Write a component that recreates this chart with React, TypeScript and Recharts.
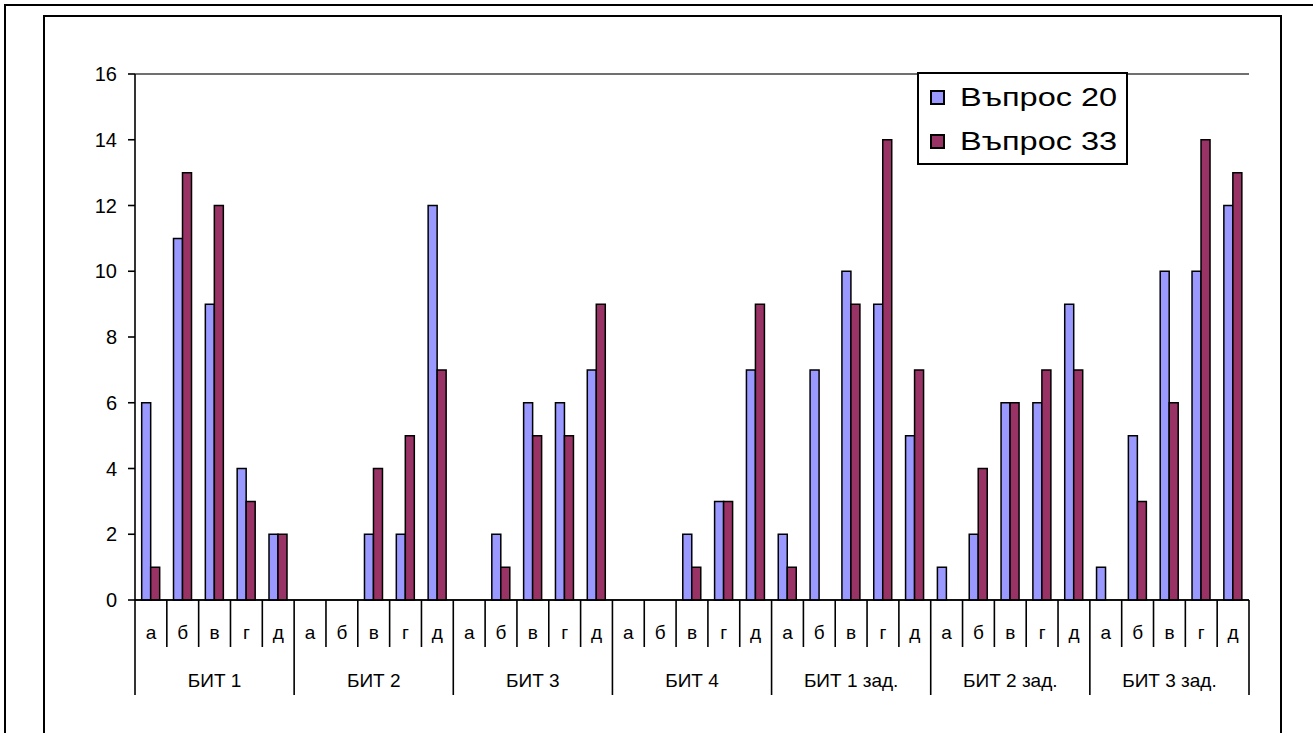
import React from "react";
import {
  BarChart,
  Bar,
  XAxis,
  YAxis,
  CartesianGrid,
  ReferenceLine,
  Legend,
} from "recharts";

const groups = ["БИТ 1", "БИТ 2", "БИТ 3", "БИТ 4", "БИТ 1 зад.", "БИТ 2 зад.", "БИТ 3 зад."];
const letters = ["а", "б", "в", "г", "д"];

// per group: а б в г д
const q20 = [
  6, 11, 9, 4, 2,
  0, 0, 2, 2, 12,
  0, 2, 6, 6, 7,
  0, 0, 2, 3, 7,
  2, 7, 10, 9, 5,
  1, 2, 6, 6, 9,
  1, 5, 10, 10, 12,
];
const q33 = [
  1, 13, 12, 3, 2,
  0, 0, 4, 5, 7,
  0, 1, 5, 5, 9,
  0, 0, 1, 3, 9,
  1, 0, 9, 14, 7,
  0, 4, 6, 7, 7,
  0, 3, 6, 14, 13,
];
const yTicks = [0, 2, 4, 6, 8, 10, 12, 14, 16];

const data = q20.map((v, i) => ({
  key: i,
  letter: letters[i % 5],
  group: groups[Math.floor(i / 5)],
  q20: v,
  q33: q33[i],
}));

const FONT = '"Liberation Sans", Arial, sans-serif';

const CategoryTick = (props: any) => {
  const { x, y, index, width } = props;
  const n = data.length;
  const band = (width || 1114) / n;
  const left = x - band / 2;
  const right = x + band / 2;
  const d = data[index];
  const first = index % 5 === 0;
  return (
    <g>
      <line x1={left} x2={left} y1={y} y2={first ? y + 95 : y + 47} stroke="#000" strokeWidth={1.6} />
      {index === n - 1 && (
        <line x1={right} x2={right} y1={y} y2={y + 95} stroke="#000" strokeWidth={1.6} />
      )}
      <text x={x} y={y + 39} textAnchor="middle" fontSize={19} fontFamily={FONT} fill="#000">
        {d.letter}
      </text>
      {index % 5 === 2 && (
        <text x={x} y={y + 87} textAnchor="middle" fontSize={19} fontFamily={FONT} fill="#000">
          {d.group}
        </text>
      )}
    </g>
  );
};

const LegendBox = (props: any) => {
  const items = props.payload || [];
  return (
    <div
      style={{
        width: 211,
        height: 93,
        boxSizing: "border-box",
        border: "2px solid #000",
        background: "#fff",
        fontFamily: FONT,
        position: "relative",
      }}
    >
      {items.map((it: any, i: number) => (
        <div key={it.value} style={{ position: "absolute", left: 11, top: 9 + i * 44, height: 28, display: "flex", alignItems: "center" }}>
          <span
            style={{
              display: "inline-block",
              width: 15,
              height: 15,
              boxSizing: "border-box",
              border: "2px solid #000",
              background: it.color,
            }}
          />
          <span
            style={{
              display: "inline-block",
              marginLeft: 15,
              fontSize: 25,
              lineHeight: "28px",
              color: "#000",
              transform: "scaleX(1.3)",
              transformOrigin: "left center",
              whiteSpace: "nowrap",
            }}
          >
            {it.value}
          </span>
        </div>
      ))}
    </div>
  );
};

export default function App() {
  return (
    <div style={{ position: "absolute", left: 0, top: 0, width: 1313, height: 733, overflow: "hidden", background: "#fff" }}>
      <div style={{ position: "absolute", left: 4, top: 4, width: 1310, height: 740, borderLeft: "2px solid #000", borderTop: "2px solid #000" }} />
      <div style={{ position: "absolute", left: 43, top: 15, width: 1239, height: 740, boxSizing: "border-box", border: "2px solid #000" }} />
      <div style={{ position: "absolute", left: 0, top: 0 }}>
        <BarChart
          width={1313}
          height={733}
          data={data}
          margin={{ top: 74, right: 64, left: 75, bottom: 33 }}
          barGap={0}
          barCategoryGap="21%"
        >
          <CartesianGrid vertical={false} stroke="#000" strokeWidth={1.6} />
          <XAxis
            dataKey="key"
            interval={0}
            height={100}
            tickLine={false}
            tickSize={0}
            tickMargin={0}
            axisLine={{ stroke: "#000", strokeWidth: 1.6 }}
            tick={<CategoryTick />}
          />
          <YAxis
            yAxisId="left"
            width={60}
            domain={[0, 16]}
            ticks={yTicks}
            interval={0}
            tickSize={7}
            tickMargin={11}
            axisLine={{ stroke: "#000", strokeWidth: 1.6 }}
            tickLine={{ stroke: "#000", strokeWidth: 1.6 }}
            tick={{ fontSize: 20, fontFamily: FONT, fill: "#000" }}
          />
          <YAxis yAxisId="right" orientation="right" width={0} domain={[0, 16]} tick={false} tickLine={false} axisLine={{ stroke: "#808080", strokeWidth: 1.6 }} />
          <ReferenceLine yAxisId="left" y={16} stroke="#808080" strokeWidth={1.6} />
          <Legend
            layout="vertical"
            align="center"
            verticalAlign="middle"
            content={<LegendBox />}
            wrapperStyle={{ left: 917, top: 72, width: 211, height: 93 }}
          />
          <Bar yAxisId="left" dataKey="q20" name="Въпрос 20" fill="#9999FF" stroke="#000" strokeWidth={1.5} isAnimationActive={false} />
          <Bar yAxisId="left" dataKey="q33" name="Въпрос 33" fill="#993366" stroke="#000" strokeWidth={1.5} isAnimationActive={false} />
        </BarChart>
      </div>
    </div>
  );
}
